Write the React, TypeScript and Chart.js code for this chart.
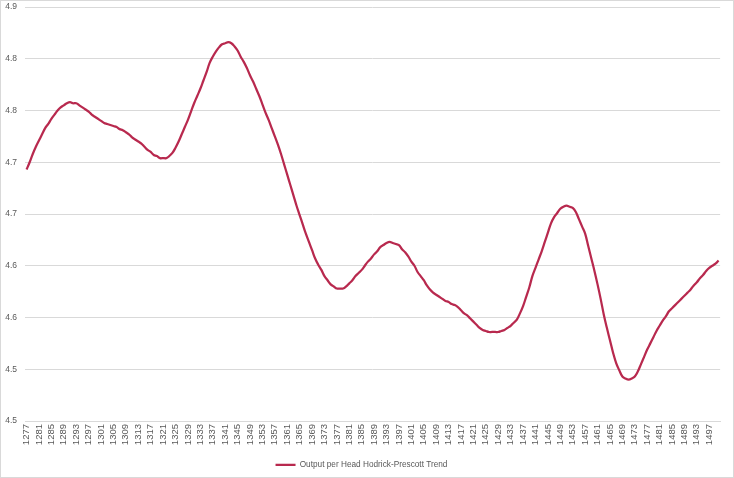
import React, { useEffect, useRef } from 'react';
import { Chart, registerables } from 'chart.js';

Chart.register(...registerables);

// years on the category axis (one point per year)
const firstYear = 1277;
const lastYear = 1500;
const years: string[] = [];
for (let y = firstYear; y <= lastYear; y++) years.push(String(y));

// Hodrick-Prescott trend of log output per head
const trend1277to1304 = [
  4.743, 4.750, 4.758, 4.765, 4.771, 4.777, 4.783, 4.787, 4.792, 4.796,
  4.800, 4.803, 4.805, 4.807, 4.808, 4.807, 4.807, 4.805, 4.803, 4.801,
  4.799, 4.796, 4.794, 4.792, 4.790, 4.788, 4.787, 4.786,
];
const trend1305to1332 = [
  4.785, 4.784, 4.782, 4.781, 4.779, 4.777, 4.774, 4.772, 4.770, 4.768,
  4.765, 4.762, 4.760, 4.757, 4.756, 4.754, 4.754, 4.754, 4.756, 4.759,
  4.764, 4.770, 4.777, 4.784, 4.791, 4.799, 4.807, 4.814,
];
const trend1333to1360 = [
  4.821, 4.829, 4.837, 4.846, 4.852, 4.857, 4.861, 4.864, 4.865, 4.866,
  4.865, 4.862, 4.858, 4.852, 4.847, 4.841, 4.834, 4.828, 4.821, 4.814,
  4.806, 4.798, 4.791, 4.783, 4.775, 4.767, 4.758, 4.748,
];
const trend1361to1388 = [
  4.738, 4.728, 4.718, 4.708, 4.699, 4.690, 4.681, 4.673, 4.665, 4.657,
  4.651, 4.646, 4.640, 4.636, 4.632, 4.630, 4.628, 4.628, 4.628, 4.630,
  4.633, 4.636, 4.640, 4.643, 4.646, 4.650, 4.654, 4.657,
];
const trend1389to1416 = [
  4.661, 4.664, 4.668, 4.670, 4.672, 4.673, 4.672, 4.671, 4.670, 4.666,
  4.663, 4.659, 4.654, 4.650, 4.644, 4.640, 4.636, 4.631, 4.627, 4.624,
  4.622, 4.620, 4.618, 4.616, 4.615, 4.613, 4.612, 4.610,
];
const trend1417to1444 = [
  4.607, 4.604, 4.602, 4.599, 4.596, 4.593, 4.590, 4.588, 4.587, 4.586,
  4.586, 4.586, 4.586, 4.587, 4.588, 4.590, 4.592, 4.595, 4.598, 4.604,
  4.611, 4.620, 4.629, 4.640, 4.648, 4.656, 4.664, 4.673,
];
const trend1445to1472 = [
  4.682, 4.691, 4.697, 4.701, 4.705, 4.707, 4.708, 4.707, 4.706, 4.702,
  4.695, 4.688, 4.681, 4.669, 4.657, 4.645, 4.632, 4.618, 4.603, 4.590,
  4.578, 4.566, 4.556, 4.549, 4.543, 4.541, 4.540, 4.541,
];
const trend1473to1500 = [
  4.543, 4.548, 4.555, 4.562, 4.569, 4.575, 4.581, 4.587, 4.592, 4.597,
  4.601, 4.606, 4.609, 4.612, 4.615, 4.618, 4.621, 4.624, 4.627, 4.631,
  4.634, 4.638, 4.641, 4.645, 4.648, 4.650, 4.652, 4.655,
];

const trend = [
  ...trend1277to1304, ...trend1305to1332, ...trend1333to1360, ...trend1361to1388,
  ...trend1389to1416, ...trend1417to1444, ...trend1445to1472, ...trend1473to1500,
];

const seriesLabel = 'Output per Head Hodrick-Prescott Trend';
const yMin = 4.5;
const yMax = 4.9;
const yStep = 0.05;
const labelEvery = 4;

const lineColor = '#b8294e';
const textColor = '#595959';
const gridColor = '#d9d9d9';
const fontFamily = "'Liberation Sans', Arial, sans-serif";

// Excel shows the ticks with one decimal, cut rather than rounded
const oneDecimal = (v: number) => (Math.floor(v * 10 + 1e-4) / 10).toFixed(1);

const App: React.FC = () => {
  const canvasRef = useRef<HTMLCanvasElement>(null);

  useEffect(() => {
    document.body.style.margin = '0';
    const chart = new Chart(canvasRef.current!, {
      type: 'line',
      data: {
        labels: years,
        datasets: [{
          label: seriesLabel,
          data: trend,
          borderColor: lineColor,
          backgroundColor: lineColor,
          borderWidth: 2.25,
          pointRadius: 0,
          tension: 0.4,
          fill: false,
        }],
      },
      options: {
        responsive: false,
        animation: false,
        layout: { padding: { top: 6, right: 11, left: 0, bottom: -2 } },
        plugins: {
          legend: {
            position: 'bottom',
            labels: {
              usePointStyle: true,
              pointStyle: 'line',
              pointStyleWidth: 20,
              color: textColor,
              font: { family: fontFamily, size: 8.25 },
              padding: 3,
            },
          },
          tooltip: { enabled: false },
        },
        scales: {
          x: {
            offset: true,
            grid: { display: false, drawTicks: false },
            border: { color: gridColor },
            ticks: {
              autoSkip: false,
              minRotation: 90,
              maxRotation: 90,
              padding: 3,
              color: textColor,
              font: { family: fontFamily, size: 9.5 },
              callback: (_v: any, i: number) => (i % labelEvery === 0 ? years[i] : ''),
            },
            afterFit: (s: any) => { s.height = 36.75; },
          },
          y: {
            min: yMin,
            max: yMax,
            ticks: {
              stepSize: yStep,
              padding: 8,
              color: textColor,
              font: { family: fontFamily, size: 8.5 },
              callback: (v: any) => oneDecimal(Number(v)),
            },
            grid: { color: gridColor, drawTicks: false },
            border: { display: false },
            afterFit: (s: any) => {
              s.width = 24;
              s.paddingTop = 0;
              s.paddingBottom = 0;
            },
          },
        },
      },
    });
    return () => chart.destroy();
  }, []);

  return (
    <div style={{ width: 734, height: 478, boxSizing: 'border-box', border: '1px solid #d9d9d9', background: '#fff' }}>
      <canvas ref={canvasRef} width={732} height={476} style={{ display: 'block' }} />
    </div>
  );
};

export default App;
